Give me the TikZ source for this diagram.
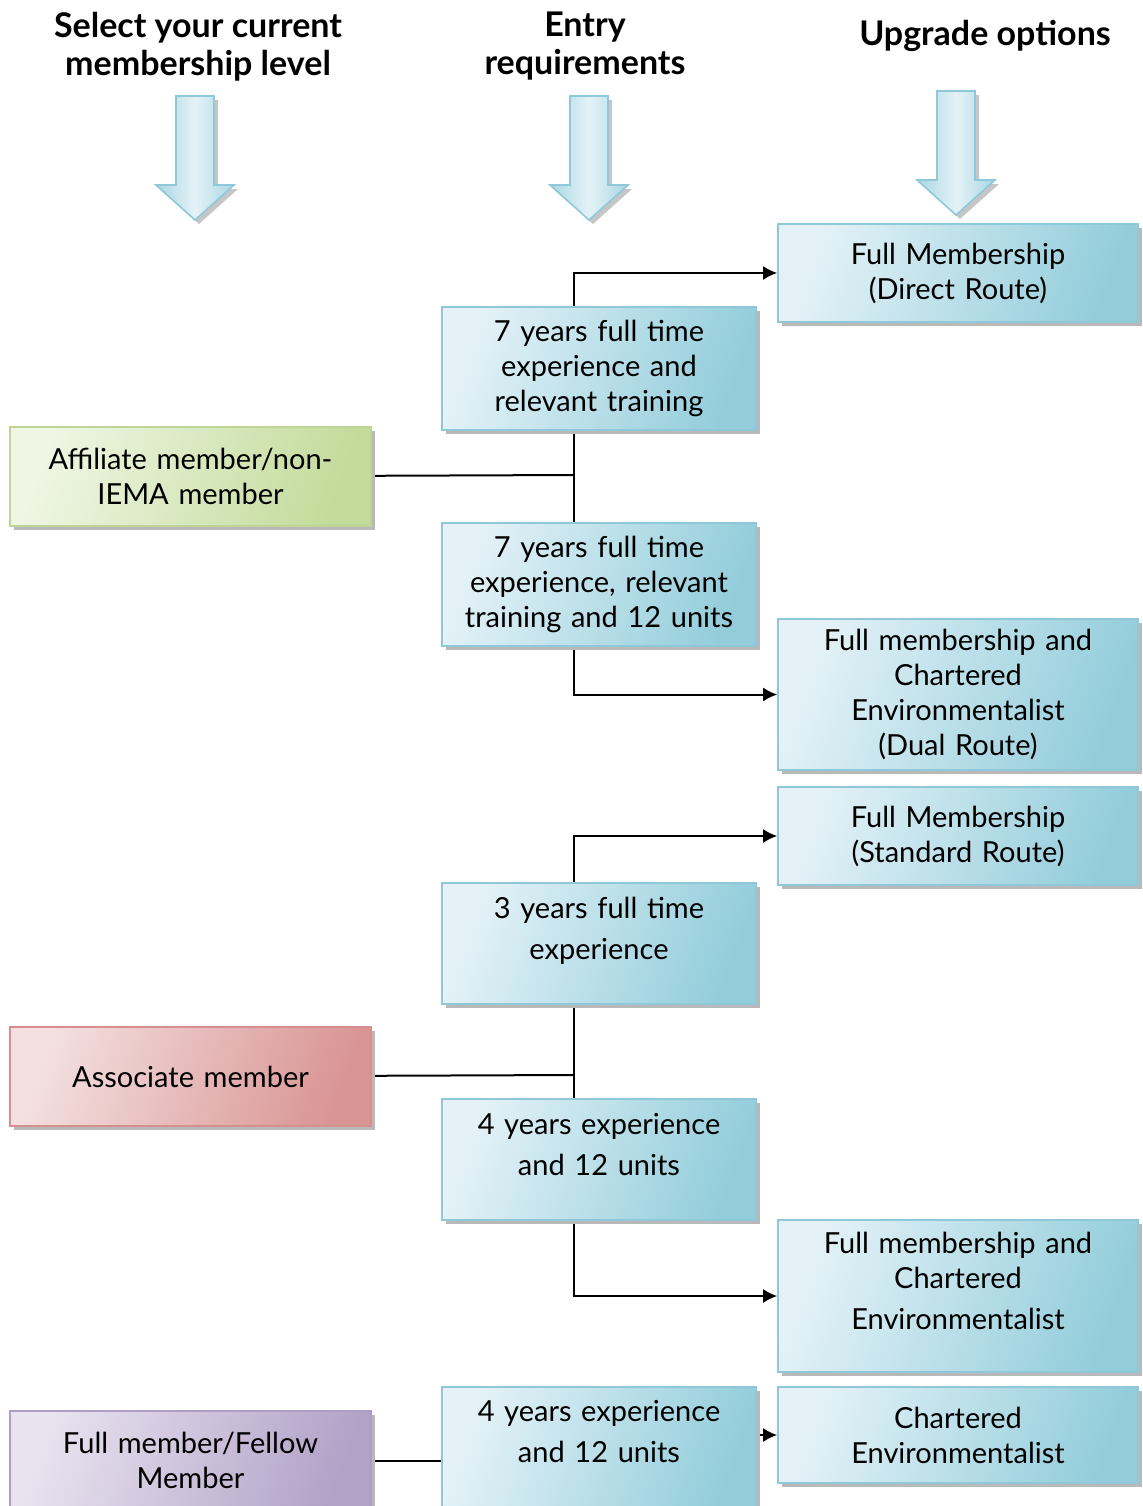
\documentclass[tikz,border=0pt]{standalone}
\usepackage{fontspec}
\setmainfont{Lato}
\usetikzlibrary{arrows.meta,shadows,backgrounds}

\definecolor{bluelight}{HTML}{E4F2F7}
\definecolor{bluedark}{HTML}{93CDDB}
\definecolor{blueline}{HTML}{8FC9D9}
\definecolor{greenlight}{HTML}{EFF6E4}
\definecolor{greendark}{HTML}{C3DB9B}
\definecolor{greenline}{HTML}{BFD597}
\definecolor{redlight}{HTML}{F4E0E0}
\definecolor{reddark}{HTML}{D99594}
\definecolor{redline}{HTML}{D58F8E}
\definecolor{purplelight}{HTML}{E8E3EF}
\definecolor{purpledark}{HTML}{B3A2C8}
\definecolor{purpleline}{HTML}{AE9DC4}

\newcommand{\upshift}[2]{\raisebox{#1}[\height][\depth]{\begin{tabular}{@{}c@{}}#2\end{tabular}}}

\begin{document}
\begin{tikzpicture}[x=0.5pt, y=-0.5pt, font=\fontsize{14.5}{17.5}\selectfont,
    box/.style={rectangle, draw=#1line, line width=0.8pt, left color=#1light, right color=#1dark,
        shading angle=70, align=center, inner sep=2pt,
        drop shadow={shadow xshift=2pt, shadow yshift=-2pt, fill=gray!55, opacity=1}},
    levelbox/.style={box=#1, minimum width=180.5pt, text width=172pt, minimum height=49.5pt},
    entrybox/.style={box=blue, minimum width=157pt, text width=152pt},
    optionbox/.style={box=blue, minimum width=180pt, text width=172pt},
    link/.style={line width=1pt},
    toarrow/.style={link, -{Latex[length=7pt,width=7pt]}},
    head/.style={font=\bfseries\fontsize{17}{19}\selectfont, align=center},
    downarrow/.style={draw=blueline, line width=0.8pt, left color=bluedark!80, right color=bluedark!80,
        middle color=bluelight, drop shadow={shadow xshift=2pt, shadow yshift=-2pt, fill=gray!45, opacity=1}}
]
    \useasboundingbox (0,0) rectangle (1142,1506);

    % column headings
    \node[head] (hsel) at (198,47) {Select your current\\membership level};
    \node[head] (hent) at (585,46) {Entry\\requirements};
    \node[head] (hupg) at (985,36) {Upgrade options};
    \foreach \cx/\ty in {195/96, 589/96, 956/91} {
        \path[downarrow] (\cx-19,\ty) -- (\cx+19,\ty) -- (\cx+19,\ty+89) -- (\cx+39,\ty+89)
            -- (\cx,\ty+124) -- (\cx-39,\ty+89) -- (\cx-19,\ty+89) -- cycle;
    }

    % affiliate
    \node[optionbox, minimum height=49pt] (direct) at (958,273) {Full Membership\\(Direct Route)};
    \node[entrybox, minimum height=61.5pt] (a1) at (599,368.5) {7 years full time\\experience and\\relevant training};
    \node[levelbox=green] (aff) at (190.5,476.5) {Affiliate member/non-\\IEMA member};
    \node[entrybox, minimum height=61.5pt] (a2) at (599,584.5) {7 years full time\\experience, relevant\\training and 12 units};
    \node[optionbox, minimum height=75.5pt] (dual) at (958,694.5) {Full membership and\\Chartered\\Environmentalist\\(Dual Route)};

    % associate
    \node[optionbox, minimum height=49pt] (std) at (958,836) {Full Membership\\(Standard Route)};
    \node[entrybox, minimum height=60.5pt] (b1) at (599,943.5) {\upshift{6pt}{3 years full time\\[3pt]experience}};
    \node[levelbox=red] (assoc) at (190.5,1076.5) {Associate member};
    \node[entrybox, minimum height=60.5pt] (b2) at (599,1159.5) {\upshift{6pt}{4 years experience\\[3pt]and 12 units}};
    \node[optionbox, minimum height=76pt] (chfull) at (958,1296) {\upshift{6pt}{Full membership and\\Chartered\\[3pt]Environmentalist}};

    % full member
    \node[entrybox, minimum height=61.5pt] (c1) at (599,1448.5) {\upshift{7pt}{4 years experience\\[3pt]and 12 units}};
    \node[optionbox, minimum height=48pt] (chart) at (958,1435) {Chartered\\Environmentalist};
    \node[levelbox=purple] (fellow) at (190.5,1460.5) {Full member/Fellow\\Member};

    \begin{scope}[on background layer]
        \coordinate (j1) at (574,475);
        \coordinate (j2) at (574,1075);
        \draw[link] (aff) -- (j1);
        \draw[toarrow] (j1) |- (direct);
        \draw[toarrow] (j1) |- (dual);
        \draw[link] (assoc) -- (j2);
        \draw[toarrow] (j2) |- (std);
        \draw[toarrow] (j2) |- (chfull);
        \draw[link] (fellow) -- (fellow -| c1.west);
        \draw[toarrow] (chart -| c1.east) -- (chart);
    \end{scope}
\end{tikzpicture}
\end{document}
